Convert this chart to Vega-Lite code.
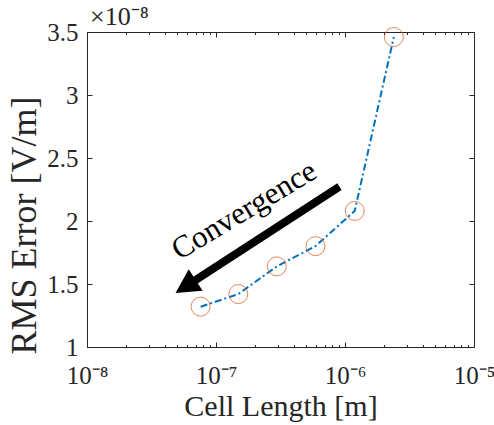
{
  "$schema": "https://vega.github.io/schema/vega-lite/v6.json",
  "autosize": "none",
  "padding": {"left": 87, "top": 32, "right": 20, "bottom": 78},
  "width": 387,
  "height": 315,
  "background": "white",
  "config": {
    "view": {"stroke": "#262626", "strokeWidth": 1},
    "axis": {"labelFont": "Liberation Serif", "titleFont": "Liberation Serif", "labelFontSize": 25, "titleFontSize": 30, "titleFontWeight": "normal", "labelColor": "#262626", "titleColor": "#262626", "tickColor": "#262626", "grid": false, "domain": false, "labelFlush": false, "labelOverlap": false}
  },
  "datasets": {
    "pts": [
      {"cell": 7.6e-8, "rms_e8": 1.32},
      {"cell": 1.49e-7, "rms_e8": 1.42},
      {"cell": 2.96e-7, "rms_e8": 1.64},
      {"cell": 5.9e-7, "rms_e8": 1.80},
      {"cell": 1.19e-6, "rms_e8": 2.08},
      {"cell": 2.39e-6, "rms_e8": 3.46}
    ],
    "arrow": [
      {"x_tail": 9.06e-7, "y_tail": 2.272, "x_head": 6.08e-8, "y_head": 1.493}
    ],
    "label": [
      {"x": 1.66e-7, "y": 2.08, "text": "Convergence"}
    ],
    "expo": [
      {"x": 1e-8, "y": 3.5, "text": "×10⁻⁸"}
    ]
  },
  "resolve": {"axis": {"x": "independent", "y": "independent"}},
  "layer": [
    {
      "data": {"name": "pts"},
      "mark": {"type": "line", "color": "#0072BD", "strokeWidth": 2, "strokeDash": [7, 3, 2, 3]},
      "encoding": {
        "x": {"field": "cell", "type": "quantitative", "scale": {"type": "log", "domain": [1e-8, 1e-5], "nice": false},
          "axis": {"orient": "bottom", "values": [1e-8, 1e-7, 1e-6, 1e-5], "tickSize": -5, "labelPadding": 21, "title": "Cell Length [m]", "titlePadding": 3,
            "labelExpr": "datum.value < 5e-8 ? '10⁻⁸' : datum.value < 5e-7 ? '10⁻⁷' : datum.value < 5e-6 ? '10⁻⁶' : '10⁻⁵'"}},
        "y": {"field": "rms_e8", "type": "quantitative", "scale": {"domain": [1, 3.5], "nice": false, "zero": false},
          "axis": {"orient": "left", "values": [1, 1.5, 2, 2.5, 3, 3.5], "tickSize": -5, "labelPadding": 14, "title": "RMS Error [V/m]", "titleFontSize": 36, "titlePadding": 3, "titleY": 193, "format": "~g"}}
      }
    },
    {
      "data": {"name": "pts"},
      "mark": {"type": "point", "shape": "circle", "color": "#D95319", "size": 361, "strokeWidth": 1, "filled": false},
      "encoding": {
        "x": {"field": "cell", "type": "quantitative", "axis": {"orient": "top", "values": [1e-8, 1e-7, 1e-6, 1e-5], "tickSize": -5, "labels": false, "title": null}},
        "y": {"field": "rms_e8", "type": "quantitative", "axis": {"orient": "right", "values": [1, 1.5, 2, 2.5, 3, 3.5], "tickSize": -5, "labels": false, "title": null}}
      }
    },
    {
      "data": {"name": "arrow"},
      "mark": {"type": "rule", "color": "black", "strokeWidth": 8, "strokeCap": "butt"},
      "encoding": {
        "x": {"field": "x_tail", "type": "quantitative", "axis": {"orient": "bottom", "values": [2e-8,3e-8,4e-8,5e-8,6e-8,7e-8,8e-8,9e-8,2e-7,3e-7,4e-7,5e-7,6e-7,7e-7,8e-7,9e-7,2e-6,3e-6,4e-6,5e-6,6e-6,7e-6,8e-6,9e-6], "tickSize": -2.5, "labels": false, "title": null}},
        "y": {"field": "y_tail", "type": "quantitative", "axis": null},
        "x2": {"field": "x_head"},
        "y2": {"field": "y_head"}
      }
    },
    {
      "data": {"name": "arrow"},
      "mark": {"type": "point", "shape": "M -1,0 L 0.6,-0.85 L 0.6,0.85 Z", "color": "black", "filled": true, "opacity": 1, "size": 900, "angle": 327},
      "encoding": {
        "x": {"field": "x_head", "type": "quantitative", "axis": {"orient": "top", "values": [2e-8,3e-8,4e-8,5e-8,6e-8,7e-8,8e-8,9e-8,2e-7,3e-7,4e-7,5e-7,6e-7,7e-7,8e-7,9e-7,2e-6,3e-6,4e-6,5e-6,6e-6,7e-6,8e-6,9e-6], "tickSize": -2.5, "labels": false, "title": null}},
        "y": {"field": "y_head", "type": "quantitative", "axis": null}
      }
    },
    {
      "data": {"name": "label"},
      "mark": {"type": "text", "font": "Liberation Serif", "fontSize": 31, "angle": 329, "align": "center", "baseline": "middle", "color": "black"},
      "encoding": {
        "x": {"field": "x", "type": "quantitative", "axis": null},
        "y": {"field": "y", "type": "quantitative", "axis": null},
        "text": {"field": "text"}
      }
    },
    {
      "data": {"name": "expo"},
      "mark": {"type": "text", "font": "Liberation Serif", "fontSize": 26, "align": "left", "baseline": "alphabetic", "dx": 3, "dy": -7, "color": "#262626"},
      "encoding": {
        "x": {"field": "x", "type": "quantitative", "axis": null},
        "y": {"field": "y", "type": "quantitative", "axis": null},
        "text": {"field": "text"}
      }
    }
  ]
}
